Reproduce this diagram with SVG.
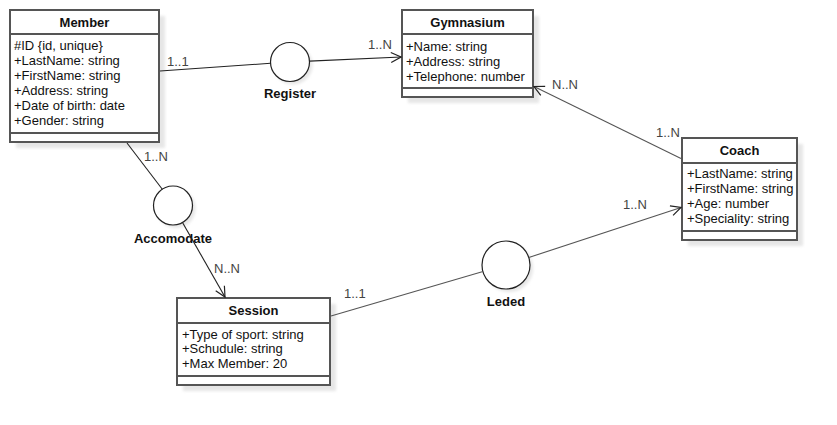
<svg xmlns="http://www.w3.org/2000/svg" width="837" height="425" viewBox="0 0 837 425">
<defs>
<filter id="sh" x="-20%" y="-20%" width="140%" height="140%"><feGaussianBlur stdDeviation="1.5"/></filter>
<marker id="arr" markerWidth="12" markerHeight="12" refX="11" refY="6" orient="auto" markerUnits="userSpaceOnUse"><path d="M1,1 L11,6 L1,11" fill="none" stroke="#222" stroke-width="1.2"/></marker>
</defs>
<style>
.box{fill:#fff;stroke:#555;stroke-width:2}
.sep{stroke:#555;stroke-width:2}
.shadow{fill:#e6e6e6;filter:url(#sh)}
.hdr{font-family:"Liberation Sans",Arial,sans-serif;font-size:13px;font-weight:bold;fill:#111;text-anchor:middle}
.att{font-family:"Liberation Sans",Arial,sans-serif;font-size:13px;fill:#111}
.mult{font-family:"Liberation Sans",Arial,sans-serif;font-size:13px;fill:#444}
.rel{font-family:"Liberation Sans",Arial,sans-serif;font-size:13px;font-weight:bold;fill:#111;text-anchor:middle}
.circ{fill:#fff;stroke:#222;stroke-width:1.2}
.ln{fill:none;stroke:#222;stroke-width:1.1}
.lng{fill:none;stroke:#555;stroke-width:1.1}
</style>
<rect width="837" height="425" fill="#fff"/>

<g id="register">
<circle class="shadow" cx="293" cy="65" r="19.5"/>
<circle class="circ" cx="290" cy="62" r="19.5"/>
<text class="rel" x="290" y="97.5">Register</text>
</g>

<g id="accomodate">
<circle class="shadow" cx="176" cy="208.5" r="19.5"/>
<circle class="circ" cx="173" cy="205.5" r="19.5"/>
<text class="rel" x="173" y="242.5">Accomodate</text>
</g>

<g id="leded">
<circle class="shadow" cx="509" cy="268" r="24"/>
<circle class="circ" cx="506" cy="265" r="24"/>
<text class="rel" x="506" y="305.5">Leded</text>
</g>

<g id="member">
<rect class="shadow" x="16" y="16" width="149" height="132"/>
<rect class="box" x="10" y="10" width="149" height="132"/>
<line class="sep" x1="10" y1="34" x2="159" y2="34"/>
<line class="sep" x1="10" y1="133" x2="159" y2="133"/>
<text class="hdr" x="84.5" y="26.5">Member</text>
<text class="att" x="14" y="49.5">#ID {id, unique}</text>
<text class="att" x="14" y="64.5">+LastName: string</text>
<text class="att" x="14" y="79.5">+FirstName: string</text>
<text class="att" x="14" y="94.5">+Address: string</text>
<text class="att" x="14" y="109.5">+Date of birth: date</text>
<text class="att" x="14" y="124.5">+Gender: string</text>
</g>

<g id="gymnasium">
<rect class="shadow" x="408" y="16" width="131" height="87"/>
<rect class="box" x="402" y="10" width="131" height="87"/>
<line class="sep" x1="402" y1="34" x2="533" y2="34"/>
<line class="sep" x1="402" y1="88" x2="533" y2="88"/>
<text class="hdr" x="467.5" y="26.5">Gymnasium</text>
<text class="att" x="406" y="50.5">+Name: string</text>
<text class="att" x="406" y="65.5">+Address: string</text>
<text class="att" x="406" y="80.5">+Telephone: number</text>
</g>

<g id="coach">
<rect class="shadow" x="688" y="144" width="115" height="102"/>
<rect class="box" x="682" y="138" width="115" height="102"/>
<line class="sep" x1="682" y1="163" x2="797" y2="163"/>
<line class="sep" x1="682" y1="231" x2="797" y2="231"/>
<text class="hdr" x="739.5" y="154.5">Coach</text>
<text class="att" x="687" y="178">+LastName: string</text>
<text class="att" x="687" y="193">+FirstName: string</text>
<text class="att" x="687" y="208">+Age: number</text>
<text class="att" x="687" y="223">+Speciality: string</text>
</g>

<g id="session">
<rect class="shadow" x="183" y="304" width="153" height="87"/>
<rect class="box" x="177" y="298" width="153" height="87"/>
<line class="sep" x1="177" y1="323" x2="330" y2="323"/>
<line class="sep" x1="177" y1="376" x2="330" y2="376"/>
<text class="hdr" x="253.5" y="314.5">Session</text>
<text class="att" x="182" y="338.5">+Type of sport: string</text>
<text class="att" x="182" y="353">+Schudule: string</text>
<text class="att" x="182" y="368">+Max Member: 20</text>
</g>

<g id="connectors">
<line class="ln" x1="160" y1="71" x2="270.5" y2="63.3"/>
<line class="ln" x1="309.5" y1="61.1" x2="401" y2="57" marker-end="url(#arr)"/>
<line class="ln" x1="127" y1="143" x2="162.5" y2="189.5"/>
<line class="ln" x1="182.5" y1="222.5" x2="225" y2="297" marker-end="url(#arr)"/>
<line class="lng" x1="331" y1="316" x2="483" y2="271.5"/>
<line class="lng" x1="528.8" y1="257.5" x2="681" y2="207.5" marker-end="url(#arr)"/>
<line class="lng" x1="681" y1="158.5" x2="534" y2="86.5" marker-end="url(#arr)"/>
<text class="mult" x="167" y="65.5">1..1</text>
<text class="mult" x="368" y="48.5">1..N</text>
<text class="mult" x="552" y="88.5">N..N</text>
<text class="mult" x="656" y="136.5">1..N</text>
<text class="mult" x="623" y="208.5">1..N</text>
<text class="mult" x="344" y="297.5">1..1</text>
<text class="mult" x="144" y="160.5">1..N</text>
<text class="mult" x="214" y="272.5">N..N</text>
</g>
</svg>
